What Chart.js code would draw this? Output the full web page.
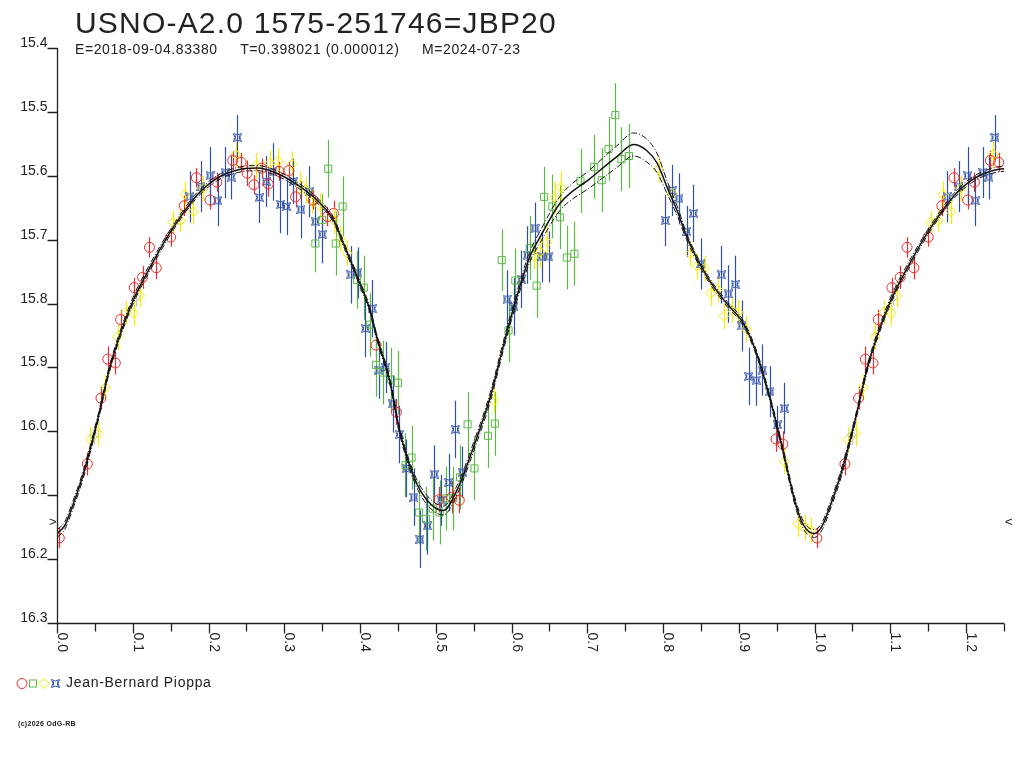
<!DOCTYPE html>
<html>
<head>
<meta charset="utf-8">
<script src="https://cdn.jsdelivr.net/npm/chart.js@4.4.1/dist/chart.umd.min.js"></script>
<style>
  html, body { margin: 0; padding: 0; background: #fff; }
  #wrap { width: 1024px; height: 768px; }
</style>
</head>
<body>
<div id="wrap"><canvas id="lc" width="1024" height="768"></canvas></div>
<script>
// observations: [phase, magnitude, error], phase 0..1 (repeated up to 1.25 below)
const redObs = [
  [0.003, 16.167, 0.016], [0.040, 16.051, 0.018], [0.058, 15.948, 0.018], [0.067, 15.887, 0.02],
  [0.077, 15.893, 0.018], [0.084, 15.825, 0.015], [0.102, 15.775, 0.015], [0.113, 15.759, 0.018],
  [0.122, 15.712, 0.016], [0.131, 15.744, 0.018], [0.150, 15.696, 0.015], [0.168, 15.647, 0.016],
  [0.184, 15.603, 0.015], [0.202, 15.638, 0.015], [0.211, 15.610, 0.015], [0.232, 15.576, 0.015],
  [0.243, 15.579, 0.015], [0.251, 15.596, 0.02], [0.260, 15.614, 0.015], [0.270, 15.588, 0.015],
  [0.279, 15.613, 0.02], [0.293, 15.593, 0.015], [0.306, 15.592, 0.015], [0.315, 15.633, 0.015],
  [0.338, 15.638, 0.015], [0.357, 15.664, 0.015], [0.365, 15.659, 0.02], [0.421, 15.865, 0.02],
  [0.448, 15.970, 0.02], [0.504, 16.107, 0.02], [0.521, 16.103, 0.025], [0.531, 16.108, 0.02],
  [0.949, 16.012, 0.02], [0.958, 16.020, 0.02]
];
const greenObs = [
  [0.341, 15.706, 0.045], [0.350, 15.669, 0.04], [0.358, 15.589, 0.045], [0.368, 15.706, 0.05],
  [0.377, 15.648, 0.047], [0.396, 15.763, 0.045], [0.405, 15.775, 0.05], [0.413, 15.833, 0.05],
  [0.421, 15.896, 0.05], [0.430, 15.908, 0.05], [0.441, 15.919, 0.05], [0.450, 15.924, 0.05],
  [0.460, 16.053, 0.05], [0.468, 16.041, 0.05], [0.478, 16.127, 0.05], [0.487, 16.137, 0.05],
  [0.496, 16.121, 0.05], [0.505, 16.127, 0.05], [0.514, 16.105, 0.05], [0.523, 16.105, 0.05],
  [0.532, 16.072, 0.05], [0.542, 15.989, 0.05], [0.551, 16.058, 0.05], [0.569, 16.007, 0.05],
  [0.578, 15.988, 0.05], [0.587, 15.732, 0.048], [0.596, 15.842, 0.05], [0.605, 15.764, 0.05],
  [0.624, 15.713, 0.05], [0.633, 15.772, 0.05], [0.643, 15.633, 0.047], [0.654, 15.648, 0.05],
  [0.664, 15.665, 0.05], [0.673, 15.728, 0.05], [0.683, 15.722, 0.05], [0.691, 15.608, 0.05],
  [0.709, 15.586, 0.05], [0.719, 15.607, 0.05], [0.728, 15.558, 0.05], [0.737, 15.505, 0.05],
  [0.745, 15.574, 0.05], [0.755, 15.569, 0.05]
];
const greyObs = [
  [0.049, 16.006, 0.015], [0.104, 15.790, 0.015], [0.506, 16.116, 0.015]
];
const yellowObs = [
  [0.044, 16.013, 0.02], [0.054, 16.003, 0.02], [0.064, 15.931, 0.02], [0.080, 15.852, 0.02],
  [0.091, 15.814, 0.018], [0.101, 15.815, 0.02], [0.109, 15.788, 0.018], [0.153, 15.673, 0.018],
  [0.163, 15.670, 0.018], [0.169, 15.629, 0.02], [0.180, 15.656, 0.02], [0.193, 15.620, 0.02],
  [0.236, 15.567, 0.02], [0.263, 15.584, 0.02], [0.281, 15.580, 0.02], [0.292, 15.577, 0.02],
  [0.310, 15.582, 0.02], [0.321, 15.614, 0.02], [0.329, 15.623, 0.02], [0.336, 15.640, 0.02],
  [0.347, 15.647, 0.02], [0.366, 15.670, 0.02], [0.374, 15.699, 0.02], [0.383, 15.721, 0.02],
  [0.577, 15.952, 0.02], [0.630, 15.726, 0.02], [0.638, 15.719, 0.025], [0.647, 15.704, 0.025],
  [0.657, 15.634, 0.025], [0.665, 15.618, 0.025], [0.794, 15.590, 0.02], [0.812, 15.628, 0.02],
  [0.836, 15.722, 0.02], [0.845, 15.742, 0.02], [0.855, 15.745, 0.02], [0.863, 15.784, 0.02],
  [0.872, 15.778, 0.02], [0.880, 15.820, 0.02], [0.891, 15.810, 0.02], [0.899, 15.814, 0.02],
  [0.910, 15.840, 0.02], [0.960, 16.047, 0.02], [0.978, 16.145, 0.02], [0.987, 16.150, 0.02],
  [0.995, 16.155, 0.02]
];
const blueObs = [
  [0.175, 15.633, 0.04], [0.190, 15.617, 0.04], [0.202, 15.600, 0.045], [0.212, 15.639, 0.04],
  [0.222, 15.595, 0.04], [0.230, 15.602, 0.035], [0.238, 15.540, 0.035], [0.267, 15.634, 0.04],
  [0.276, 15.609, 0.04], [0.285, 15.594, 0.045], [0.295, 15.645, 0.045], [0.303, 15.648, 0.045],
  [0.312, 15.609, 0.035], [0.322, 15.653, 0.045], [0.333, 15.625, 0.04], [0.341, 15.672, 0.04],
  [0.350, 15.692, 0.045], [0.388, 15.755, 0.045], [0.397, 15.752, 0.04], [0.407, 15.839, 0.045],
  [0.416, 15.808, 0.045], [0.425, 15.904, 0.045], [0.434, 15.900, 0.04], [0.443, 15.957, 0.045],
  [0.452, 16.005, 0.045], [0.461, 16.058, 0.045], [0.471, 16.103, 0.045], [0.479, 16.169, 0.045],
  [0.489, 16.148, 0.045], [0.498, 16.067, 0.045], [0.507, 16.108, 0.04], [0.517, 16.080, 0.045],
  [0.526, 15.997, 0.045], [0.535, 16.064, 0.04], [0.594, 15.793, 0.045], [0.603, 15.805, 0.045],
  [0.613, 15.762, 0.045], [0.621, 15.724, 0.045], [0.631, 15.682, 0.04], [0.640, 15.727, 0.04],
  [0.649, 15.727, 0.04], [0.803, 15.670, 0.04], [0.812, 15.623, 0.04], [0.821, 15.636, 0.04],
  [0.831, 15.687, 0.04], [0.840, 15.659, 0.045], [0.850, 15.738, 0.04], [0.877, 15.755, 0.045],
  [0.886, 15.785, 0.045], [0.895, 15.770, 0.045], [0.904, 15.835, 0.04], [0.913, 15.914, 0.045],
  [0.923, 15.920, 0.04], [0.931, 15.904, 0.04], [0.941, 15.938, 0.04], [0.951, 15.990, 0.03],
  [0.960, 15.964, 0.04]
];

// fitted light curve and its envelope
const curvePhase = [0.000, 0.010, 0.022, 0.035, 0.053, 0.070, 0.097, 0.128, 0.154, 0.185,
  0.211, 0.238, 0.264, 0.290, 0.317, 0.343, 0.365, 0.378, 0.396, 0.413,
  0.422, 0.440, 0.451, 0.471, 0.488, 0.510, 0.528, 0.550, 0.572, 0.589,
  0.607, 0.624, 0.638, 0.664, 0.704, 0.739, 0.761, 0.778, 0.792, 0.805,
  0.820, 0.831, 0.858, 0.884, 0.906, 0.924, 0.941, 0.957, 0.976, 0.987];
const curveMid = [16.160, 16.148, 16.112, 16.066, 15.985, 15.899, 15.805, 15.732, 15.680, 15.630,
  15.604, 15.591, 15.588, 15.596, 15.614, 15.638, 15.669, 15.706, 15.758, 15.810,
  15.852, 15.925, 15.993, 16.071, 16.107, 16.124, 16.092, 16.024, 15.946, 15.867,
  15.789, 15.727, 15.695, 15.643, 15.604, 15.570, 15.551, 15.560, 15.580, 15.617,
  15.659, 15.695, 15.758, 15.800, 15.831, 15.880, 15.948, 16.024, 16.118, 16.150];
const curveHi = [16.154, 16.142, 16.106, 16.060, 15.980, 15.894, 15.800, 15.727, 15.676, 15.626,
  15.600, 15.587, 15.584, 15.592, 15.610, 15.634, 15.665, 15.702, 15.754, 15.806,
  15.848, 15.920, 15.988, 16.065, 16.100, 16.117, 16.085, 16.017, 15.939, 15.860,
  15.782, 15.719, 15.686, 15.632, 15.590, 15.553, 15.533, 15.542, 15.565, 15.607,
  15.652, 15.690, 15.754, 15.796, 15.827, 15.876, 15.944, 16.019, 16.112, 16.144];
const curveLo = [16.166, 16.154, 16.118, 16.072, 15.990, 15.904, 15.810, 15.737, 15.684, 15.634,
  15.608, 15.595, 15.592, 15.600, 15.618, 15.642, 15.673, 15.710, 15.762, 15.814,
  15.856, 15.930, 15.998, 16.077, 16.114, 16.131, 16.099, 16.031, 15.953, 15.874,
  15.796, 15.735, 15.704, 15.654, 15.618, 15.587, 15.569, 15.578, 15.595, 15.627,
  15.666, 15.700, 15.762, 15.804, 15.835, 15.884, 15.952, 16.029, 16.124, 16.156];

const yTicks = [15.4, 15.5, 15.6, 15.7, 15.8, 15.9, 16.0, 16.1, 16.2, 16.3];
const xTicks = [0.0, 0.1, 0.2, 0.3, 0.4, 0.5, 0.6, 0.7, 0.8, 0.9, 1.0, 1.1, 1.2];
const xMinorTicks = [0.05, 0.15, 0.25, 0.35, 0.45, 0.55, 0.65, 0.75, 0.85, 0.95, 1.05, 1.15, 1.25];
const minMarks = [16.142];

const titleText = 'USNO-A2.0 1575-251746=JBP20';
const infoText = 'E=2018-09-04.83380     T=0.398021 (0.000012)     M=2024-07-23';
const observer = 'Jean-Bernard Pioppa';
const copyText = '(c)2026 OdG-RB';

const RED = '#ee2a2a', GREEN = '#5cb946', GREY = '#c4c4c4', YELLOW = '#f7ec00', BLUE = '#3050a8';
const FONT = '"Liberation Sans", Arial, sans-serif';

// repeat phases 0..0.25 after 1.0
function fold(rows) {
  const out = rows.map(r => ({ x: r[0], y: r[1], e: r[2] }));
  rows.forEach(r => { if (r[0] <= 0.25) out.push({ x: r[0] + 1, y: r[1], e: r[2] }); });
  return out;
}
function foldCurve(vals) {
  const out = curvePhase.map((p, i) => ({ x: p, y: vals[i] }));
  curvePhase.forEach((p, i) => { if (p <= 0.265) out.push({ x: p + 1, y: vals[i] }); });
  return out;
}

function blueMark() {
  const c = document.createElement('canvas');
  c.width = 9; c.height = 9;
  const g = c.getContext('2d');
  g.strokeStyle = BLUE;
  g.lineWidth = 1;
  g.beginPath();
  g.moveTo(0.5, 0.5); g.quadraticCurveTo(4.5, 3.5, 8.5, 0.5);
  g.quadraticCurveTo(5.5, 4.5, 8.5, 8.5);
  g.quadraticCurveTo(4.5, 5.5, 0.5, 8.5);
  g.quadraticCurveTo(3.5, 4.5, 0.5, 0.5);
  g.stroke();
  g.beginPath();
  g.moveTo(2.5, 2.5); g.lineTo(2.5, 6.5);
  g.moveTo(6.5, 2.5); g.lineTo(6.5, 6.5);
  g.stroke();
  return c;
}
const blueImg = blueMark();

function obsSet(label, rows, color, style, radius) {
  return {
    label: label, type: 'scatter', data: fold(rows), errColor: color,
    pointStyle: style, pointRadius: radius, borderColor: color,
    backgroundColor: 'rgba(0,0,0,0)', pointBorderWidth: 1, order: 5
  };
}
function curveSet(vals, dash, width) {
  return {
    type: 'line', data: foldCurve(vals), borderColor: '#111', borderWidth: width,
    borderDash: dash, pointRadius: 0, cubicInterpolationMode: 'monotone', order: 0
  };
}

const errorBars = {
  id: 'errorBars',
  beforeDatasetsDraw(chart) {
    const { ctx, scales: { x, y } } = chart;
    ctx.save();
    ctx.lineWidth = 1.2;
    chart.data.datasets.forEach(ds => {
      if (!ds.errColor) return;
      ctx.strokeStyle = ds.errColor;
      ds.data.forEach(p => {
        const px = Math.round(x.getPixelForValue(p.x)) + 0.5;
        ctx.beginPath();
        ctx.moveTo(px, y.getPixelForValue(p.y - p.e));
        ctx.lineTo(px, y.getPixelForValue(p.y + p.e));
        ctx.stroke();
      });
    });
    ctx.restore();
  }
};

const frame = {
  id: 'frame',
  afterDraw(chart) {
    const { ctx, scales: { x, y } } = chart;
    const x0 = Math.round(x.getPixelForValue(0)) + 0.5;
    const yB = Math.round(y.getPixelForValue(16.3)) + 0.5;
    const yT = y.getPixelForValue(15.4);
    ctx.save();
    ctx.strokeStyle = '#222';
    ctx.fillStyle = '#222';
    ctx.lineWidth = 1.3;
    ctx.beginPath();
    ctx.moveTo(x0, yT); ctx.lineTo(x0, yB);
    ctx.moveTo(x0 - 10, yB); ctx.lineTo(x.getPixelForValue(1.25), yB);
    yTicks.forEach(v => {
      const py = Math.round(y.getPixelForValue(v)) + 0.5;
      ctx.moveTo(x0 - 10, py); ctx.lineTo(x0, py);
    });
    xTicks.forEach(v => {
      const px = Math.round(x.getPixelForValue(v)) + 0.5;
      ctx.moveTo(px, yB); ctx.lineTo(px, yB + 10);
    });
    xMinorTicks.forEach(v => {
      const px = Math.round(x.getPixelForValue(v)) + 0.5;
      ctx.moveTo(px, yB); ctx.lineTo(px, yB + 8);
    });
    ctx.stroke();

    ctx.font = '14px ' + FONT;
    ctx.textAlign = 'right';
    ctx.textBaseline = 'alphabetic';
    yTicks.forEach(v => {
      ctx.fillText(v.toFixed(1), x0 - 10, y.getPixelForValue(v) - 1);
    });
    xTicks.forEach(v => {
      ctx.save();
      ctx.translate(x.getPixelForValue(v) + 1, yB + 9);
      ctx.rotate(Math.PI / 2);
      ctx.textAlign = 'left';
      ctx.fillText(v.toFixed(1), 0, 0);
      ctx.restore();
    });

    // amplitude markers at both ends
    ctx.font = '13px ' + FONT;
    ctx.textBaseline = 'middle';
    minMarks.forEach(v => {
      const py = y.getPixelForValue(v);
      ctx.textAlign = 'right';
      ctx.fillText('>', x0 - 1, py);
      ctx.textAlign = 'left';
      ctx.fillText('<', x.getPixelForValue(1.25) + 1, py);
    });

    // title and elements
    ctx.textAlign = 'left';
    ctx.textBaseline = 'alphabetic';
    ctx.font = '30px ' + FONT;
    ctx.letterSpacing = '1.2px';
    ctx.fillText(titleText, 75, 33);
    ctx.font = '14px ' + FONT;
    ctx.letterSpacing = '0.6px';
    ctx.fillText(infoText, 75, 54);

    // legend
    const ly = 683.5;
    ctx.lineWidth = 1;
    ctx.strokeStyle = RED;
    ctx.beginPath(); ctx.arc(22, ly, 5, 0, Math.PI * 2); ctx.stroke();
    ctx.strokeStyle = GREEN;
    ctx.strokeRect(29.5, ly - 3.5, 7, 7);
    ctx.strokeStyle = YELLOW;
    ctx.beginPath();
    ctx.moveTo(44, ly - 5); ctx.lineTo(49, ly); ctx.lineTo(44, ly + 5); ctx.lineTo(39, ly);
    ctx.closePath(); ctx.stroke();
    ctx.drawImage(blueImg, 51, ly - 4.5);
    ctx.fillStyle = '#222';
    ctx.font = '14px ' + FONT;
    ctx.letterSpacing = '0.7px';
    ctx.textBaseline = 'middle';
    ctx.fillText(observer, 66, ly);

    ctx.font = 'bold 7px ' + FONT;
    ctx.letterSpacing = '0.3px';
    ctx.fillText(copyText, 18, 724);
    ctx.restore();
  }
};

new Chart(document.getElementById('lc'), {
  data: {
    datasets: [
      curveSet(curveMid, [], 1.5),
      curveSet(curveHi, [6, 2, 1, 2], 1),
      curveSet(curveLo, [6, 2, 1, 2], 1),
      obsSet('grey', greyObs, GREY, 'rectRot', 4.5),
      obsSet('red', redObs, RED, 'circle', 5),
      obsSet('green', greenObs, GREEN, 'rect', 5),
      obsSet('yellow', yellowObs, YELLOW, 'rectRot', 5),
      obsSet('blue', blueObs, BLUE, blueImg, 4)
    ]
  },
  options: {
    responsive: false,
    animation: false,
    devicePixelRatio: 1,
    events: [],
    layout: { padding: { left: 57, right: 20, top: 48, bottom: 145 } },
    scales: {
      x: { type: 'linear', min: 0, max: 1.25, display: false },
      y: { type: 'linear', min: 15.4, max: 16.3, reverse: true, display: false }
    },
    plugins: { legend: { display: false }, tooltip: { enabled: false } }
  },
  plugins: [errorBars, frame]
});
</script>
</body>
</html>
